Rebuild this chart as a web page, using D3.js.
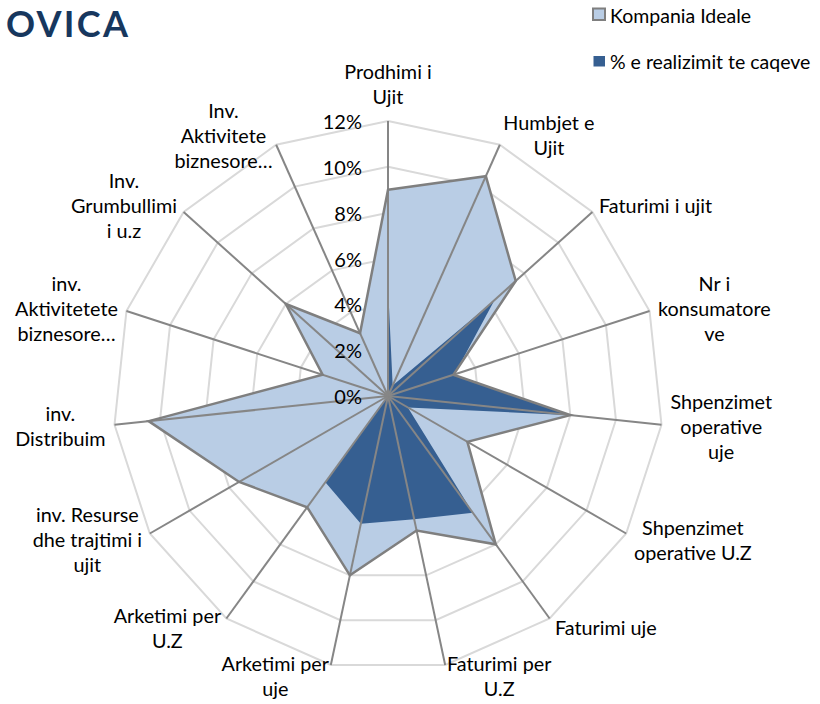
<!DOCTYPE html>
<html>
<head>
<meta charset="utf-8">
<script src="https://cdn.jsdelivr.net/npm/d3@7"></script>
<style>
  html, body { margin: 0; padding: 0; background: #fff; }
  svg { display: block; font-family: Lato, "Open Sans", sans-serif; }
</style>
</head>
<body>
<svg id="chart" width="820" height="704"></svg>
<script>
// category labels, already wrapped the way the original shows them
const categories = [
  ['Prodhimi i', 'Ujit'],
  ['Humbjet e', 'Ujit'],
  ['Faturimi i ujit'],
  ['Nr i', 'konsumatore', 've'],
  ['Shpenzimet', 'operative', 'uje'],
  ['Shpenzimet', 'operative U.Z'],
  ['Faturimi uje'],
  ['Faturimi per', 'U.Z'],
  ['Arketimi per', 'uje'],
  ['Arketimi per', 'U.Z'],
  ['inv. Resurse', 'dhe trajtimi i', 'ujit'],
  ['inv.', 'Distribuim'],
  ['inv.', 'Aktivitetete', 'biznesore…'],
  ['Inv.', 'Grumbullimi', 'i u.z'],
  ['Inv.', 'Aktivitete', 'biznesore…']
];

// values in percent
const idealValues = [9, 10.5, 7.5, 3, 8, 4, 8, 6, 8, 6, 7.5, 10.5, 3, 6, 3];
const realValues = [4.8, 0.5, 6.25, 3.05, 8, 1, 6.3, 5.5, 5.7, 4.65, 0, 0, 0, 0, 0];

const tickValues = [0, 2, 4, 6, 8, 10, 12];
const seriesNames = ['Kompania Ideale', '% e realizimit te caqeve'];

const svg = d3.select('#chart');
const cx = 388, cy = 396, radius = 275;
const n = categories.length;

const r = d3.scaleLinear().domain([0, 12]).range([0, radius]);
const angle = d3.scaleLinear().domain([0, n]).range([0, 2 * Math.PI]);

const g = svg.append('g').attr('transform', `translate(${cx},${cy})`);

// title (only the visible part of the slide heading)
svg.append('text')
  .text('OVICA')
  .attr('x', 6).attr('y', 37)
  .attr('textLength', 122)
  .attr('lengthAdjust', 'spacing')
  .style('font-weight', 'bold')
  .style('font-size', '36px')
  .style('fill', '#17375E');

const ring = d3.lineRadial()
  .angle((d, i) => angle(i))
  .radius(d => r(d))
  .curve(d3.curveLinearClosed);

// rings
g.selectAll('.ring')
  .data(tickValues.slice(1))
  .enter().append('path')
  .attr('class', 'ring')
  .attr('d', v => ring(categories.map(() => v)))
  .attr('fill', 'none')
  .attr('stroke', '#D9D9D9')
  .attr('stroke-width', 2);

// series fills
g.append('path')
  .attr('d', ring(idealValues))
  .attr('fill', '#B9CDE5');

g.append('path')
  .attr('d', ring(realValues))
  .attr('fill', '#365F91');

// spokes
const point = (i, v) => [Math.sin(angle(i)) * r(v), -Math.cos(angle(i)) * r(v)];

g.selectAll('.spoke')
  .data(categories)
  .enter().append('line')
  .attr('class', 'spoke')
  .attr('x1', 0).attr('y1', 0)
  .attr('x2', (d, i) => point(i, 12)[0])
  .attr('y2', (d, i) => point(i, 12)[1])
  .attr('stroke', '#868686')
  .attr('stroke-width', 2);

// ideal outline on top
g.append('path')
  .attr('d', ring(idealValues))
  .attr('fill', 'none')
  .attr('stroke', '#7F7F7F')
  .attr('stroke-width', 2.5)
  .attr('stroke-linejoin', 'miter');

// tick labels
g.selectAll('.tick')
  .data(tickValues)
  .enter().append('text')
  .attr('class', 'tick')
  .attr('x', -26)
  .attr('y', v => -r(v))
  .attr('text-anchor', 'end')
  .attr('dominant-baseline', 'central')
  .style('font-size', '20px')
  .style('fill', '#000')
  .text(v => v + '%');

// category labels
const lineH = 25;
const labels = g.selectAll('.lab')
  .data(categories)
  .enter().append('text')
  .attr('class', 'lab')
  .attr('text-anchor', 'middle')
  .attr('dominant-baseline', 'central')
  .style('font-size', '19.8px')
  .style('fill', '#000');

labels.each(function (lines, i) {
  const t = d3.select(this);
  lines.forEach(s => t.append('tspan').text(s));
  let maxW = 0;
  t.selectAll('tspan').each(function () { maxW = Math.max(maxW, this.getComputedTextLength()); });
  const [ex, ey] = point(i, 12);
  const s = Math.sin(angle(i)), c = Math.cos(angle(i));
  let x, yc;
  if (Math.abs(s) < 0.05) {
    x = ex;
    yc = ey - 13 - (lines.length * lineH) / 2;
  } else {
    x = ex + Math.sign(s) * (9 * Math.abs(s) + maxW / 2);
    yc = ey - c * 11;
  }
  const y0 = yc - (lines.length - 1) * lineH / 2;
  t.selectAll('tspan')
    .attr('x', x)
    .attr('y', (d, k) => y0 + k * lineH);
});

// legend
const legend = svg.append('g');
legend.append('rect')
  .attr('x', 593).attr('y', 8.5).attr('width', 12).attr('height', 11.5)
  .attr('fill', '#B9CDE5').attr('stroke', '#7F7F7F').attr('stroke-width', 2);
legend.append('rect')
  .attr('x', 593.5).attr('y', 56).attr('width', 11.5).attr('height', 10.5)
  .attr('fill', '#365F91');
legend.selectAll('.leg')
  .data(seriesNames)
  .enter().append('text')
  .attr('x', 610)
  .attr('y', (d, i) => 15 + i * 46)
  .attr('dominant-baseline', 'central')
  .style('font-size', '19.5px')
  .style('fill', '#000')
  .text(d => d);
</script>
</body>
</html>
